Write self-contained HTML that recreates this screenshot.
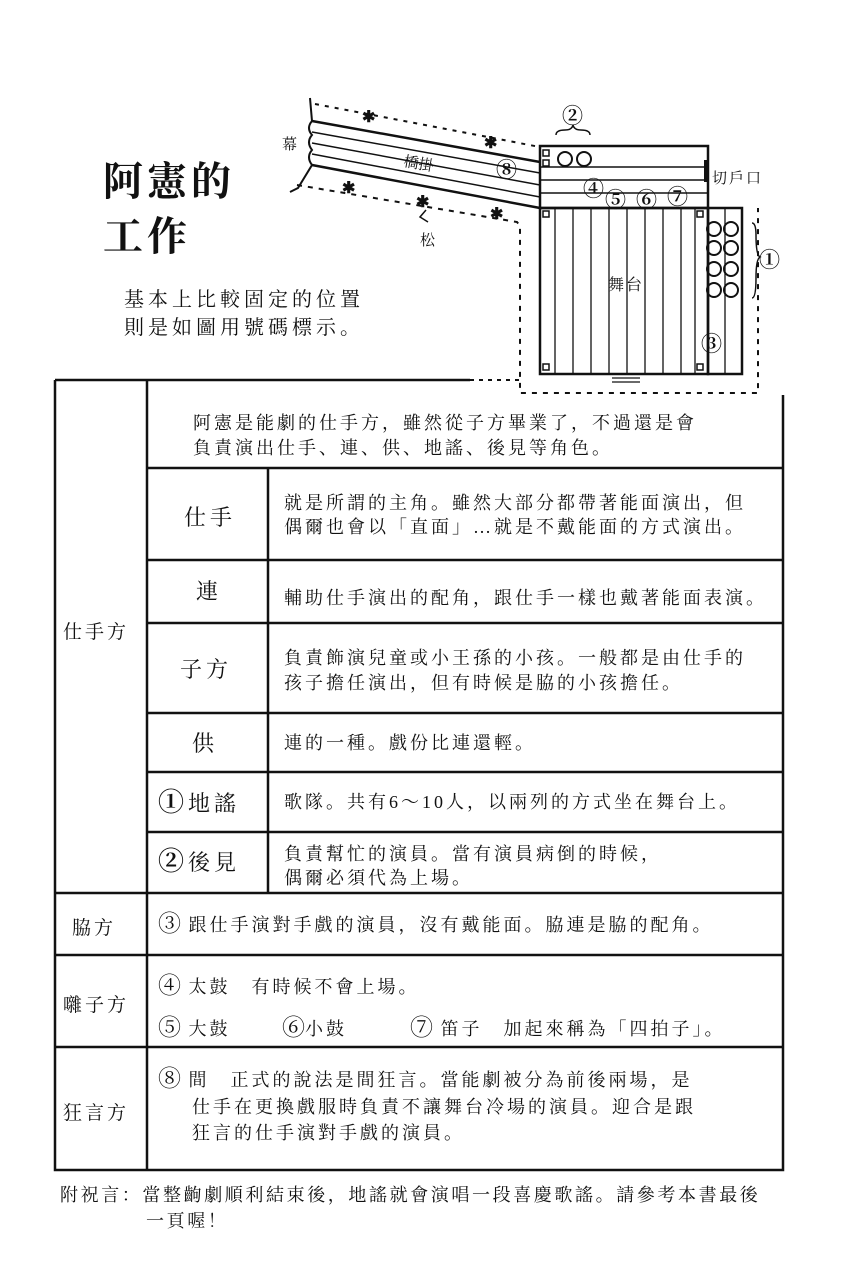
<!DOCTYPE html>
<html><head><meta charset="utf-8"><style>
html,body{margin:0;padding:0;background:#fff;}
svg{display:block;}
text{font-family:"Liberation Serif","Noto Serif CJK SC","Noto Sans CJK TC",serif;fill:#111;}
.c{font-size:23px;letter-spacing:0;}
</style></head><body>
<svg width="852" height="1280" viewBox="0 0 852 1280" xmlns="http://www.w3.org/2000/svg">
<g stroke="#111" fill="none">
<path d="M315 104 L540 147" stroke-width="2" stroke-dasharray="4 6"/>
<path d="M297 185 L517 222 L520 226 L520 393 L758 393 L758 208" stroke-width="2" stroke-dasharray="5 6"/>
<path d="M470 380 L520 380" stroke-width="2" stroke-dasharray="4 5"/>
<path d="M310 98 L312 121 Q306 128 312 135 Q306 142 312 150 Q306 157 312 165 L298 188 L290 192" stroke-width="2"/>
<path d="M312 121 L540 162" stroke-width="2.5"/>
<path d="M312 132 L540 173" stroke-width="1.5"/>
<path d="M312 143 L540 185" stroke-width="1.5"/>
<path d="M312 154 L540 197" stroke-width="1.5"/>
<path d="M312 165 L540 208" stroke-width="2.5"/>
<rect x="540" y="146" width="168" height="62" stroke-width="2.5"/>
<path d="M540 167 H708 M540 180 H708 M540 193 H708" stroke-width="1.5"/>
<path d="M706 160 V182" stroke-width="4"/>
<rect x="540" y="208" width="168" height="166" stroke-width="2.5"/>
<path d="M555 208V374 M573 208V374 M591 208V374 M609 208V374 M627 208V374 M645 208V374 M663 208V374 M681 208V374 M695 208V374" stroke-width="1.3"/>
<rect x="708" y="208" width="34" height="166" stroke-width="2.5"/>
<path d="M725 208V374" stroke-width="1.3"/>
<path d="M612 374 h28 M612 378 h28 M612 382 h28" stroke-width="1.3"/>
<rect x="543" y="150" width="6" height="6" stroke-width="1.5"/>
<rect x="543" y="160" width="6" height="6" stroke-width="1.5"/>
<rect x="543" y="211" width="6" height="6" stroke-width="1.5"/>
<rect x="697" y="211" width="6" height="6" stroke-width="1.5"/>
<rect x="543" y="364" width="6" height="6" stroke-width="1.5"/>
<rect x="697" y="364" width="6" height="6" stroke-width="1.5"/>
<g stroke-width="2">
<circle cx="565" cy="159" r="7"/><circle cx="584" cy="159" r="7"/>
<circle cx="714" cy="229" r="7"/><circle cx="731" cy="229" r="7"/>
<circle cx="714" cy="248" r="7"/><circle cx="731" cy="248" r="7"/>
<circle cx="714" cy="269" r="7"/><circle cx="731" cy="269" r="7"/>
<circle cx="714" cy="290" r="7"/><circle cx="731" cy="290" r="7"/>
</g>
<path d="M556 135 Q556 130 565 130 Q572 130 573 125 Q574 130 581 130 Q590 130 590 135" stroke-width="1.5"/>
<path d="M752 223 Q756 223 756 235 Q756 255 760 257 Q756 259 756 278 Q756 298 752 298" stroke-width="1.5"/>
<path d="M426 210 L420 217 L428 222" stroke-width="1.5"/>
<g stroke-width="2.5">
<path d="M55 380 H470"/>
<path d="M55 380 V1170 H783 V395"/>
<path d="M147 380 V1170"/>
<path d="M147 468 H783 M268 468 V893"/>
<path d="M147 560 H783 M147 623 H783 M147 713 H783 M147 772 H783 M147 832 H783"/>
<path d="M55 893 H783 M55 955 H783 M55 1047 H783"/>
</g>
</g>
<g font-size="16" font-weight="bold">
<text x="362" y="122">✱</text><text x="484" y="148">✱</text>
<text x="342" y="193">✱</text><text x="416" y="207">✱</text><text x="490" y="219">✱</text>
</g>
<g font-size="15">
<text x="282" y="149">幕</text>
<text x="403" y="166" transform="rotate(10 403 166)">橋掛</text>
<text x="420" y="245">松</text>
<text x="712" y="183" letter-spacing="2">切戶口</text>
<text x="608" y="290" font-size="16" letter-spacing="2">舞台</text>
</g>
<g font-size="21" font-weight="bold">
<text x="496" y="177">⑧</text>
<text x="562" y="123">②</text>
<text x="583" y="196">④</text>
<text x="605" y="207">⑤</text>
<text x="636" y="207">⑥</text>
<text x="667" y="204">⑦</text>
<text x="701" y="351">③</text>
<text x="759" y="267">①</text>
</g>
<text x="103" y="195" font-size="40" font-weight="bold" letter-spacing="4">阿憲的</text>
<text x="103" y="250" font-size="40" font-weight="bold" letter-spacing="4">工作</text>
<text x="124" y="306" font-size="20" letter-spacing="4">基本上比較固定的位置</text>
<text x="124" y="334" font-size="20" letter-spacing="4">則是如圖用號碼標示。</text>
<g font-size="18" letter-spacing="3">
<text x="193" y="429">阿憲是能劇的仕手方，雖然從子方畢業了，不過還是會</text>
<text x="193" y="454">負責演出仕手、連、供、地謠、後見等角色。</text>
<text x="284" y="509">就是所謂的主角。雖然大部分都帶著能面演出，但</text>
<text x="284" y="533">偶爾也會以「直面」…就是不戴能面的方式演出。</text>
<text x="284" y="604">輔助仕手演出的配角，跟仕手一樣也戴著能面表演。</text>
<text x="284" y="664">負責飾演兒童或小王孫的小孩。一般都是由仕手的</text>
<text x="284" y="689">孩子擔任演出，但有時候是脇的小孩擔任。</text>
<text x="284" y="749">連的一種。戲份比連還輕。</text>
<text x="284" y="808">歌隊。共有6～10人，以兩列的方式坐在舞台上。</text>
<text x="284" y="860">負責幫忙的演員。當有演員病倒的時候，</text>
<text x="284" y="884">偶爾必須代為上場。</text>
<text x="158" y="931"><tspan class="c">③</tspan> 跟仕手演對手戲的演員，沒有戴能面。脇連是脇的配角。</text>
<text x="158" y="993"><tspan class="c">④</tspan> 太鼓　有時候不會上場。</text>
<text x="158" y="1035"><tspan class="c">⑤</tspan> 大鼓</text><text x="282" y="1035"><tspan class="c">⑥</tspan>小鼓</text><text x="410" y="1035"><tspan class="c">⑦</tspan> 笛子　加起來稱為「四拍子」。</text>
<text x="158" y="1086"><tspan class="c">⑧</tspan> 間　正式的說法是間狂言。當能劇被分為前後兩場，是</text>
<text x="192" y="1113">仕手在更換戲服時負責不讓舞台冷場的演員。迎合是跟</text>
<text x="192" y="1139">狂言的仕手演對手戲的演員。</text>
</g>
<g font-size="22" letter-spacing="4">
<text x="184" y="525">仕手</text>
<text x="196" y="599">連</text>
<text x="180" y="677">子方</text>
<text x="192" y="751">供</text>
<text x="158" y="811"><tspan font-size="26" font-weight="bold">①</tspan>地謠</text>
<text x="158" y="870"><tspan font-size="26" font-weight="bold">②</tspan>後見</text>
</g>
<g font-size="19" letter-spacing="3">
<text x="63" y="638">仕手方</text>
<text x="72" y="934">脇方</text>
<text x="63" y="1011">囃子方</text>
<text x="63" y="1119">狂言方</text>
</g>
<g font-size="18" letter-spacing="2.6">
<text x="60" y="1201">附祝言：當整齣劇順利結束後，地謠就會演唱一段喜慶歌謠。請參考本書最後</text>
<text x="146" y="1227">一頁喔！</text>
</g>
</svg>
</body></html>
